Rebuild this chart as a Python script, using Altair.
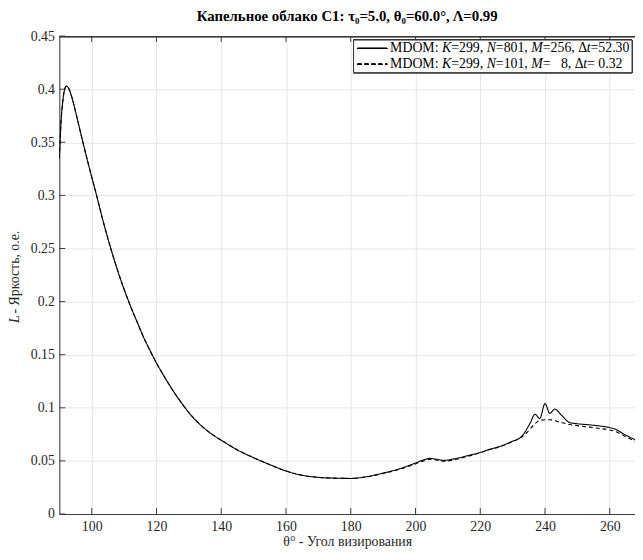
import altair as alt
import pandas as pd

# ---- data ----
theta_solid = [90, 90.5, 91, 91.5, 92.2, 93, 94, 95, 96.8, 99, 101.5, 103.5, 105.8, 108.8,
               110.5, 112.4, 114, 116, 118, 119.5, 122, 124.1, 126, 128, 130, 132.7, 136.5,
               140.8, 145, 150, 155, 160, 165, 171, 176, 180, 185, 190, 195, 200, 202.5,
               204.4, 206.5, 208.9, 212, 216, 220, 223, 226.2, 229.5, 232.8, 235.4, 236.9,
               238.4, 240, 241.5, 243, 245, 247.6, 250, 253.7, 257, 259.8, 262, 263.8, 265.8,
               267.8]
L_solid = [0.335, 0.368, 0.387, 0.398, 0.403, 0.400, 0.391, 0.379, 0.356, 0.329, 0.300, 0.276,
           0.251, 0.222, 0.2075, 0.1925, 0.181, 0.1665, 0.154, 0.145, 0.1315, 0.121, 0.112,
           0.1035, 0.0955, 0.0865, 0.0765, 0.0680, 0.0603, 0.053, 0.0465, 0.0405, 0.0365,
           0.0343, 0.0337, 0.0335, 0.0352, 0.0385, 0.0425, 0.048, 0.051, 0.0524, 0.0515,
           0.0505, 0.052, 0.0548, 0.058, 0.061, 0.0638, 0.068, 0.0731, 0.0855, 0.0939, 0.090,
           0.104, 0.0948, 0.0988, 0.0933, 0.0862, 0.0850, 0.0840, 0.0828, 0.0815, 0.0795,
           0.0762, 0.0730, 0.0700]

theta_dash = [90, 90.5, 91, 91.5, 92.2, 93, 94, 95, 96.8, 99, 101.5, 103.5, 105.8, 108.8,
              110.5, 112.4, 114, 116, 118, 119.5, 122, 124.1, 126, 128, 130, 132.7, 136.5,
              140.8, 145, 150, 155, 160, 165, 171, 176, 180, 185, 190, 195, 200, 202.5,
              204.4, 206.5, 208.9, 212, 216, 220, 223, 226.2, 229.5, 232.8, 234.5, 236.4, 238,
              240, 242.5, 244, 246, 247.6, 250, 253.7, 257, 259.8, 262, 263.8, 265.8, 267.8]
L_dash = [0.335, 0.368, 0.387, 0.398, 0.403, 0.400, 0.391, 0.379, 0.356, 0.329, 0.300, 0.276,
          0.251, 0.222, 0.2075, 0.1925, 0.181, 0.1665, 0.154, 0.145, 0.1315, 0.121, 0.112,
          0.1035, 0.0955, 0.0865, 0.0765, 0.0680, 0.0603, 0.053, 0.0465, 0.0405, 0.0365,
          0.0343, 0.0337, 0.0335, 0.0350, 0.0382, 0.0420, 0.0472, 0.050, 0.0515, 0.0508,
          0.0497, 0.0512, 0.0542, 0.0577, 0.0607, 0.0635, 0.0675, 0.0725, 0.0770, 0.0835,
          0.0875, 0.0888, 0.0886, 0.0870, 0.0855, 0.0843, 0.0832, 0.0818, 0.0805, 0.0793,
          0.0775, 0.0747, 0.0715, 0.0685]

series_names = ["solid", "dashed"]
# legend texts as (text, italic) pieces
legend_rows = [
    [("MDOM: ", 0), ("K", 1), ("=299, ", 0), ("N", 1), ("=801, ", 0), ("M", 1),
     ("=256, ", 0), ("\u0394", 0), ("t", 1), ("=52.30", 0)],
    [("MDOM: ", 0), ("K", 1), ("=299, ", 0), ("N", 1), ("=101, ", 0), ("M", 1),
     ("=\u00a0\u00a0\u00a08, ", 0), ("\u0394", 0), ("t", 1), ("=\u00a00.32", 0)],
]
# y-axis title pieces (italic L)
ytitle_pieces = [("L", 1), ("\u00a0-\u00a0Яркость, о.е.", 0)]
x_ticks = [100, 120, 140, 160, 180, 200, 220, 240, 260]
y_ticks = [0, 0.05, 0.1, 0.15, 0.2, 0.25, 0.3, 0.35, 0.4, 0.45]

W, H = 583, 484
FONT = "Liberation Serif"
AX = "#3a3a3a"
FS = 14

df = pd.concat([
    pd.DataFrame({"theta": theta_solid, "L": L_solid, "s": series_names[0]}),
    pd.DataFrame({"theta": theta_dash, "L": L_dash, "s": series_names[1]}),
])

xs = alt.Scale(domain=[90, 267.8], nice=False, zero=False)
ys = alt.Scale(domain=[0, 0.45], nice=False)

xaxis = alt.Axis(values=x_ticks, grid=True, gridColor="#e6e6e6", ticks=False,
                 domainColor=AX, labelFont=FONT, labelFontSize=FS, labelColor="#262626",
                 labelPadding=6, title="\u03b8\u00b0 - Угол визирования", titleFont=FONT,
                 titleFontSize=FS, titleFontWeight="normal", titleColor="#262626",
                 titlePadding=1)
yaxis = alt.Axis(values=y_ticks, grid=True, gridColor="#e6e6e6", ticks=False,
                 domainColor=AX, labelFont=FONT, labelFontSize=FS, labelColor="#262626",
                 labelPadding=5, format="~g", title=None)

lines = alt.Chart(df).mark_line(color="black", strokeWidth=1.1, clip=True,
                                interpolate="monotone").encode(
    x=alt.X("theta:Q", scale=xs, axis=xaxis),
    y=alt.Y("L:Q", scale=ys, axis=yaxis),
    strokeDash=alt.StrokeDash("s:N", scale=alt.Scale(domain=series_names,
                                                     range=[[1, 0], [4, 3]]), legend=None),
    detail="s:N",
)

xt = pd.DataFrame({"t": x_ticks})
yt = pd.DataFrame({"v": y_ticks})
tick_bottom = alt.Chart(xt).mark_rule(color=AX, strokeWidth=1).encode(
    x=alt.X("t:Q", scale=xs), y=alt.value(H), y2=alt.value(H - 6))
tick_top = alt.Chart(xt).mark_rule(color=AX, strokeWidth=1).encode(
    x=alt.X("t:Q", scale=xs), y=alt.value(0), y2=alt.value(6))
tick_left = alt.Chart(yt).mark_rule(color=AX, strokeWidth=1).encode(
    y=alt.Y("v:Q", scale=ys), x=alt.value(0), x2=alt.value(6))
top_border = alt.Chart(xt).mark_rule(color=AX, strokeWidth=1).encode(
    x=alt.value(0), x2=alt.value(W), y=alt.value(0.5))

# ---- hand-built text pieces (for italic letters) ----
W_REG = {" ": 250, "\u00a0": 250, ",": 250, ".": 250, ":": 278, "=": 564, "M": 889,
         "D": 722, "O": 722, "\u0394": 612, "-": 333, "Я": 667, "р": 500, "к": 475,
         "о": 500, "с": 444, "т": 420, "ь": 470, "е": 444}
W_IT = {"K": 667, "N": 667, "M": 833, "t": 278, "L": 700}


def width(txt, it):
    return sum((W_IT if it else W_REG).get(ch, 500) for ch in txt) / 1000 * FS


ROW_Y = [12.5, 28.5]
TEXT_X0 = 335
pieces = []
for r, row in enumerate(legend_rows):
    cx = TEXT_X0
    for txt, it in row:
        pieces.append({"txt": txt, "px": cx, "py": ROW_Y[r], "it": it})
        cx += width(txt, it)
pdf = pd.DataFrame(pieces)

# y title, rotated, centred on the plot height
total = sum(width(t, i) for t, i in ytitle_pieces)
cy = H / 2 + total / 2
yt_pieces = []
for txt, it in ytitle_pieces:
    yt_pieces.append({"txt": txt, "px": -45, "py": cy, "it": it})
    cy -= width(txt, it)
ydf = pd.DataFrame(yt_pieces)

leg_box = alt.Chart(xt).mark_rect(fill="white", stroke="#333333", strokeWidth=1).encode(
    x=alt.value(298), x2=alt.value(580), y=alt.value(4), y2=alt.value(37))
leg_solid = alt.Chart(xt).mark_rule(color="black", strokeWidth=1.1).encode(
    x=alt.value(302), x2=alt.value(332), y=alt.value(ROW_Y[0]))
leg_dash = alt.Chart(xt).mark_rule(color="black", strokeWidth=1.1, strokeDash=[4, 3]).encode(
    x=alt.value(302), x2=alt.value(332), y=alt.value(ROW_Y[1]))


def text_layer(d, italic, angle=0, color="black"):
    kw = dict(align="left", baseline="middle", font=FONT, fontSize=FS, color=color)
    if italic:
        kw["fontStyle"] = "italic"
    if angle:
        kw["angle"] = angle
    return alt.Chart(d).mark_text(**kw).encode(
        x=alt.X("px:Q", scale=None), y=alt.Y("py:Q", scale=None), text="txt:N")


leg_reg = text_layer(pdf[pdf.it == 0], False)
leg_it = text_layer(pdf[pdf.it == 1], True)
yt_reg = text_layer(ydf[ydf.it == 0], False, 270, "#262626")
yt_it = text_layer(ydf[ydf.it == 1], True, 270, "#262626")

chart = alt.layer(
    tick_bottom, tick_top, tick_left, top_border, lines,
    leg_box, leg_solid, leg_dash, leg_reg, leg_it, yt_reg, yt_it,
).properties(
    width=W, height=H,
    title=alt.TitleParams("Капельное облако C1: \u03c4\u2080=5.0, \u03b8\u2080=60.0\u00b0, \u039b=0.99",
                          font=FONT, fontSize=15, fontWeight="bold", color="black",
                          anchor="middle", offset=5),
    autosize=alt.AutoSizeParams(type="none"),
    padding={"left": 52, "top": 25, "right": 0, "bottom": 35},
).configure_view(stroke=None).configure(background="white")

chart.save("out.html", embed_options={"renderer": "svg", "actions": False})
